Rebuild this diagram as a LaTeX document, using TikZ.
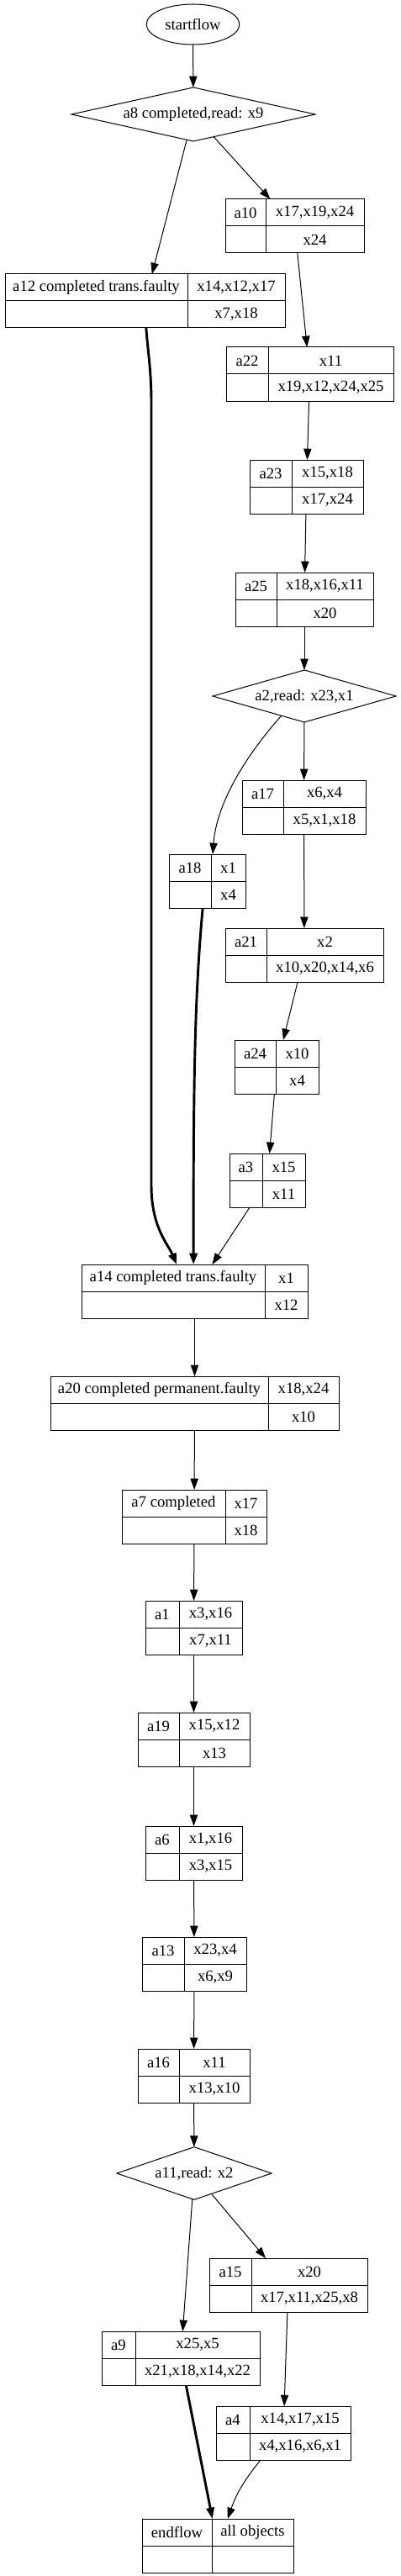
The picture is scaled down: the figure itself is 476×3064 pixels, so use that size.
\documentclass[tikz,border=0pt]{standalone}
\usepackage{fontspec}
\setmainfont{Liberation Serif}
\usetikzlibrary{shapes.geometric,arrows.meta,calc}

% record box: name, left x, divider x, right x, top y, head, top field, bottom field
\newcommand{\recnode}[8]{%
  \node[recbox, minimum width={(#4-#2)*0.75pt}] (#1) at (#2,#5) {};
  \draw[recline] (#3,#5) -- ++(0,64);
  \draw[recline] (#2,{#5+32}) -- (#4,{#5+32});
  \node[cell] at ({(#2+#3)/2},{#5+16}) {#6};
  \node[cell] at ({(#3+#4)/2},{#5+16}) {#7};
  \node[cell] at ({(#3+#4)/2},{#5+48}) {#8};
}

\begin{document}
\begin{tikzpicture}[x=0.75pt, y=-0.75pt,
    font=\fontsize{14}{16}\selectfont,
    recbox/.style={draw, line width=0.75pt, anchor=north west, minimum height=48pt,
      inner sep=0pt, outer sep=0pt},
    recline/.style={line width=0.75pt},
    cell/.style={inner sep=0pt},
    decision/.style={draw, diamond, line width=0.75pt, shape aspect=4.5, inner sep=0pt, outer sep=0pt},
    terminal/.style={draw, ellipse, line width=0.75pt, minimum width=83pt, minimum height=36pt,
      inner sep=0pt, outer sep=0pt},
    edge/.style={line width=0.75pt, -{Triangle[length=10pt, width=7pt]}},
    heavy/.style={line width=2.2pt, -{Triangle[length=10pt, width=7pt]}}]
        \useasboundingbox (0,0) rectangle (476,3064);

        \node[terminal] (startflow) at (229.5,29) {startflow};
        \node[decision, minimum width=217.5pt, minimum height=48pt] (a8) at (230,136) {a8 completed,read: x9};
        \node[decision, minimum width=163.5pt, minimum height=46.5pt] (a2) at (362,828) {a2,read: x23,x1};
        \node[decision, minimum width=138pt, minimum height=47pt] (a11) at (231,2585) {a11,read: x2};

        \recnode{a10}{268}{316}{433}{237}{a10}{x17,x19,x24}{x24}
        \recnode{a12}{6}{223}{339}{326}{a12 completed trans.faulty}{x14,x12,x17}{x7,x18}
        \recnode{a22}{269}{319}{468}{413}{a22}{x11}{x19,x12,x24,x25}
        \recnode{a23}{297}{347}{432}{547}{a23}{x15,x18}{x17,x24}
        \recnode{a25}{280}{329}{444}{681}{a25}{x18,x16,x11}{x20}
        \recnode{a17}{288}{337}{435}{928}{a17}{x6,x4}{x5,x1,x18}
        \recnode{a18}{201}{251}{292}{1016}{a18}{x1}{x4}
        \recnode{a21}{268}{317}{456}{1104}{a21}{x2}{x10,x20,x14,x6}
        \recnode{a24}{279}{328}{379}{1237}{a24}{x10}{x4}
        \recnode{a3}{273}{312}{363}{1372}{a3}{x15}{x11}
        \recnode{a14}{97}{315}{366}{1504}{a14 completed trans.faulty}{x1}{x12}
        \recnode{a20}{60}{319}{403}{1637}{a20 completed permanent.faulty}{x18,x24}{x10}
        \recnode{a7}{145}{268}{317}{1772}{a7 completed}{x17}{x18}
        \recnode{a1}{173}{213}{288}{1904}{a1}{x3,x16}{x7,x11}
        \recnode{a19}{164}{213}{297}{2037}{a19}{x15,x12}{x13}
        \recnode{a6}{173}{213}{288}{2172}{a6}{x1,x16}{x3,x15}
        \recnode{a13}{169}{219}{293}{2304}{a13}{x23,x4}{x6,x9}
        \recnode{a16}{164}{213}{297}{2437}{a16}{x11}{x13,x10}
        \recnode{a15}{249}{299}{437}{2686}{a15}{x20}{x17,x11,x25,x8}
        \recnode{a9}{121}{161}{309}{2773}{a9}{x25,x5}{x21,x18,x14,x22}
        \recnode{a4}{257}{297}{417}{2862}{a4}{x14,x17,x15}{x4,x16,x6,x1}
        \recnode{endflow}{169}{252}{349}{2996}{endflow}{all objects}{}

        \draw[edge] (startflow) -- (a8);
        \draw[edge] (a8) -- (a12);
        \draw[edge] (a8) -- (a10);
        \draw[edge] (a10) -- (a22);
        \draw[edge] (a22) -- (a23);
        \draw[edge] (a23) -- (a25);
        \draw[edge] (a25) -- (a2);
        \draw[edge] (a2) -- (a17);
        \draw[edge] ($(a2.south)!0.25!(a2.west)$) .. controls (300,890) and (258,950) .. ([xshift=4.9pt]a18.north);
        \draw[edge] (a17) -- (a21);
        \draw[edge] (a21) -- (a24);
        \draw[edge] (a24) -- (a3);
        \draw[edge] (a3) -- (a14);
        \draw[heavy] ([xshift=1pt]a12.south) .. controls (176,420) and (180,440) .. (180,480)
            -- (180,1410) .. controls (180,1460) and (200,1480) .. ([xshift=-16pt]a14.north);
        \draw[heavy] ([xshift=-4pt]a18.south) .. controls (231,1190) and (230,1300) .. ([xshift=-1pt]a14.north);
        \draw[edge] (a14) -- (a20);
        \draw[edge] (a20) -- (a7);
        \draw[edge] (a7) -- (a1);
        \draw[edge] (a1) -- (a19);
        \draw[edge] (a19) -- (a6);
        \draw[edge] (a6) -- (a13);
        \draw[edge] (a13) -- (a16);
        \draw[edge] (a16) -- (a11);
        \draw[edge] (a11) -- (a15);
        \draw[edge] (a11) -- (a9);
        \draw[edge] (a15) -- (a4);
        \draw[heavy] (a9) -- (endflow);
        \draw[edge] (a4) to[bend right=10] (endflow);
\end{tikzpicture}
\end{document}
